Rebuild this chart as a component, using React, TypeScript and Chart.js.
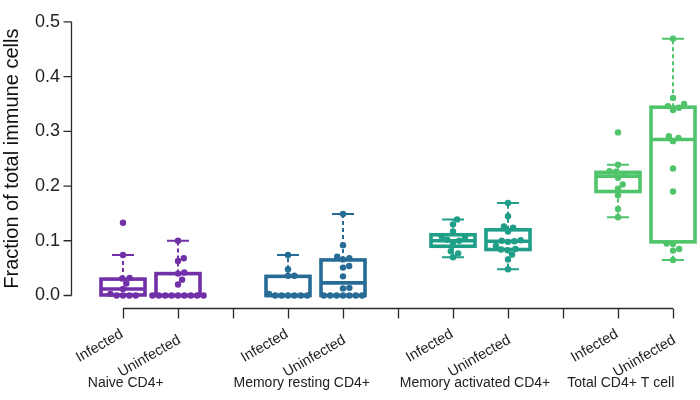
import React, { useEffect, useRef } from "react";
import { Chart, registerables } from "chart.js";

Chart.register(...registerables);

// ---- data ----
const groupNames = ["Naive CD4+", "Memory resting CD4+", "Memory activated CD4+", "Total CD4+ T cell"];
const conditionNames = ["Infected", "Uninfected"];
const groupColors = ["#7230A8", "#266C96", "#1F9E88", "#4FC46A"];
const boxPositions = [0, 1, 3, 4, 6, 7, 9, 10];
const axisTickPositions = [0, 1, 2, 3, 4, 5, 6, 7, 8, 9, 10];
const groupLabelPositions = [0.05, 3.25, 6.4, 9.05];
const yTicks = [0, 0.1, 0.2, 0.3, 0.4, 0.5];

const naiveInfected = [0.133, 0.074, 0.032, 0.031, 0.022, 0.012, 0.003, 0, 0, 0, 0];
const naiveUninfected = [0.1, 0.068, 0.063, 0.042, 0.04, 0.029, 0.02, 0, 0, 0, 0, 0, 0, 0, 0, 0];
const restingInfected = [0.074, 0.048, 0.036, 0.036, 0.003, 0, 0, 0, 0, 0, 0];
const restingUninfected = [0.149, 0.092, 0.071, 0.068, 0.066, 0.054, 0.051, 0.035, 0.014, 0.013, 0, 0, 0, 0, 0, 0, 0];
const activatedInfected = [0.139, 0.13, 0.117, 0.108, 0.105, 0.102, 0.1, 0.097, 0.081, 0.077, 0.07];
const activatedUninfected = [0.169, 0.145, 0.126, 0.124, 0.117, 0.101, 0.1, 0.099, 0.098, 0.091, 0.085, 0.084, 0.083, 0.075, 0.066, 0.048];
const totalInfected = [0.298, 0.239, 0.227, 0.226, 0.221, 0.215, 0.203, 0.195, 0.183, 0.158, 0.143];
const totalUninfected = [0.469, 0.361, 0.35, 0.346, 0.343, 0.339, 0.291, 0.288, 0.282, 0.232, 0.19, 0.095, 0.094, 0.085, 0.082, 0.065];

const seriesValues = [
  naiveInfected, naiveUninfected,
  restingInfected, restingUninfected,
  activatedInfected, activatedUninfected,
  totalInfected, totalUninfected,
];

const whiskerLow = [0, 0, 0, 0, 0.07, 0.048, 0.143, 0.065];
const boxQ1 = [0.001, 0, 0, 0, 0.09, 0.084, 0.19, 0.098];
const boxMedian = [0.012, 0, 0, 0.023, 0.1, 0.099, 0.218, 0.285];
const boxQ3 = [0.03, 0.04, 0.035, 0.065, 0.111, 0.12, 0.225, 0.344];
const whiskerHigh = [0.074, 0.1, 0.074, 0.149, 0.139, 0.169, 0.239, 0.469];

const FONT = '"Liberation Sans", Arial, Helvetica, sans-serif';
const AXIS_COLOR = "#2a2a2a";

const boxPlugin = {
  id: "boxPlugin",
  afterDatasetsUpdate(chart: any) {
    const xs = chart.scales.x;
    const diam = 6.4;
    chart.data.datasets.forEach((_ds: any, di: number) => {
      const meta = chart.getDatasetMeta(di);
      const els = meta.data;
      const cx = xs.getPixelForValue(boxPositions[di]);
      const order = els.map((_e: any, i: number) => i).sort((a: number, b: number) => els[b].y - els[a].y);
      const placed: { x: number; y: number }[] = [];
      for (const i of order) {
        const y = els[i].y;
        const cands = [0];
        for (const p of placed) {
          const dy = Math.abs(p.y - y);
          if (dy < diam) {
            const dx = Math.sqrt(diam * diam - dy * dy);
            cands.push(p.x + dx, p.x - dx);
          }
        }
        cands.sort((a, b) => Math.abs(a) - Math.abs(b) || b - a);
        let best = 0;
        for (const c of cands) {
          if (placed.every((p) => Math.hypot(p.x - c, p.y - y) >= diam - 0.01)) {
            best = c;
            break;
          }
        }
        placed.push({ x: best, y });
        els[i].x = cx + best;
      }
    });
  },
  beforeDatasetsDraw(chart: any) {
    const { ctx, chartArea } = chart;
    const xs = chart.scales.x;
    const ys = chart.scales.y;
    ctx.save();
    // axes
    ctx.strokeStyle = AXIS_COLOR;
    ctx.lineWidth = 1.3;
    ctx.setLineDash([]);
    const ax = Math.round(chartArea.left) + 0.5;
    ctx.beginPath();
    ctx.moveTo(ax, ys.getPixelForValue(yTicks[0]));
    ctx.lineTo(ax, ys.getPixelForValue(yTicks[yTicks.length - 1]));
    for (const t of yTicks) {
      const py = ys.getPixelForValue(t);
      ctx.moveTo(ax - 8, py);
      ctx.lineTo(ax, py);
    }
    ctx.stroke();
    const by = Math.round(chartArea.bottom) + 0.5;
    ctx.beginPath();
    ctx.moveTo(xs.getPixelForValue(axisTickPositions[0]), by);
    ctx.lineTo(xs.getPixelForValue(axisTickPositions[axisTickPositions.length - 1]), by);
    for (const t of axisTickPositions) {
      const px = Math.round(xs.getPixelForValue(t)) + 0.5;
      ctx.moveTo(px, by);
      ctx.lineTo(px, by + 10);
    }
    ctx.stroke();

    // boxes
    const half = xs.getPixelForValue(0.4) - xs.getPixelForValue(0);
    const capHalf = xs.getPixelForValue(0.2) - xs.getPixelForValue(0);
    boxPositions.forEach((pos, i) => {
      const color = groupColors[Math.floor(i / 2)];
      const cx = xs.getPixelForValue(pos);
      const yLow = ys.getPixelForValue(whiskerLow[i]);
      const yQ1 = ys.getPixelForValue(boxQ1[i]);
      const yMed = ys.getPixelForValue(boxMedian[i]);
      const yQ3 = ys.getPixelForValue(boxQ3[i]);
      const yHigh = ys.getPixelForValue(whiskerHigh[i]);
      ctx.strokeStyle = color;
      // whiskers
      ctx.lineWidth = 2;
      ctx.setLineDash([4, 3]);
      ctx.beginPath();
      ctx.moveTo(cx, yQ3);
      ctx.lineTo(cx, yHigh);
      ctx.moveTo(cx, yQ1);
      ctx.lineTo(cx, yLow);
      ctx.stroke();
      ctx.setLineDash([]);
      ctx.beginPath();
      ctx.moveTo(cx - capHalf, yHigh);
      ctx.lineTo(cx + capHalf, yHigh);
      ctx.moveTo(cx - capHalf, yLow);
      ctx.lineTo(cx + capHalf, yLow);
      ctx.stroke();
      // box
      ctx.lineWidth = 3.6;
      ctx.strokeRect(cx - half, yQ3, half * 2, yQ1 - yQ3);
      ctx.beginPath();
      ctx.moveTo(cx - half, yMed);
      ctx.lineTo(cx + half, yMed);
      ctx.stroke();
    });
    ctx.restore();
  },
  afterDraw(chart: any) {
    const { ctx, chartArea } = chart;
    const xs = chart.scales.x;
    const ys = chart.scales.y;
    ctx.save();
    ctx.fillStyle = "#111111";
    ctx.font = `20px ${FONT}`;
    ctx.textAlign = "center";
    ctx.textBaseline = "middle";
    ctx.translate(12, ys.getPixelForValue(0.25));
    ctx.rotate(-Math.PI / 6 * 3);
    ctx.fillText("Fraction of total immune cells", 0, 0);
    ctx.restore();

    // rotated condition labels under each box
    ctx.save();
    ctx.fillStyle = "#222222";
    ctx.font = `14.5px ${FONT}`;
    ctx.textAlign = "right";
    ctx.textBaseline = "middle";
    boxPositions.forEach((pos, i) => {
      const second = i % 2 === 1;
      ctx.save();
      ctx.translate(xs.getPixelForValue(pos) + (second ? 1.5 : -1), chartArea.bottom + (second ? 31 : 25));
      ctx.rotate(-Math.PI / 6);
      ctx.fillText(conditionNames[i % 2], 0, 0);
      ctx.restore();
    });
    ctx.restore();

    ctx.save();
    ctx.fillStyle = "#222222";
    ctx.font = `14px ${FONT}`;
    ctx.textAlign = "center";
    ctx.textBaseline = "middle";
    groupNames.forEach((name, g) => {
      ctx.fillText(name, xs.getPixelForValue(groupLabelPositions[g]), chartArea.bottom + 75);
    });
    ctx.restore();
  },
};

export default function App() {
  const canvasRef = useRef<HTMLCanvasElement | null>(null);

  useEffect(() => {
    const canvas = canvasRef.current;
    if (!canvas) return;
    const datasets = seriesValues.map((vals, i) => ({
      label: `${groupNames[Math.floor(i / 2)]} ${conditionNames[i % 2]}`,
      data: vals.map((v) => ({ x: boxPositions[i], y: v })),
      backgroundColor: groupColors[Math.floor(i / 2)],
      borderWidth: 0,
      pointRadius: 3.2,
      pointHoverRadius: 3.2,
    }));
    const chart = new Chart(canvas, {
      type: "scatter",
      data: { datasets },
      plugins: [boxPlugin],
      options: {
        animation: false,
        responsive: false,
        devicePixelRatio: 1,
        layout: { padding: { top: 10, right: 10, left: 0, bottom: 0 } },
        plugins: { legend: { display: false }, tooltip: { enabled: false }, title: { display: false } },
        events: [],
        scales: {
          x: {
            type: "linear",
            min: -0.9455,
            max: 10.309,
            grid: { display: false, drawTicks: false },
            border: { display: false },
            afterBuildTicks: (scale: any) => {
              scale.ticks = axisTickPositions.map((v) => ({ value: v }));
            },
            afterFit: (scale: any) => {
              scale.height = 92;
            },
            ticks: { display: false, autoSkip: false },
          },
          y: {
            type: "linear",
            min: -0.02281,
            max: 0.5,
            grid: { display: false, drawTicks: false },
            border: { display: false },
            afterBuildTicks: (scale: any) => {
              scale.ticks = yTicks.map((v) => ({ value: v }));
            },
            afterFit: (scale: any) => {
              scale.width = 71;
            },
            ticks: {
              padding: 11,
              color: "#222222",
              font: { family: FONT, size: 18 },
              callback: (v: any) => Number(v).toFixed(1),
            },
          },
        },
      },
    });
    return () => chart.destroy();
  }, []);

  return (
    <div style={{ position: "absolute", left: 0, top: 0, width: 700, height: 400, background: "#ffffff" }}>
      <canvas ref={canvasRef} width={700} height={400} />
    </div>
  );
}
